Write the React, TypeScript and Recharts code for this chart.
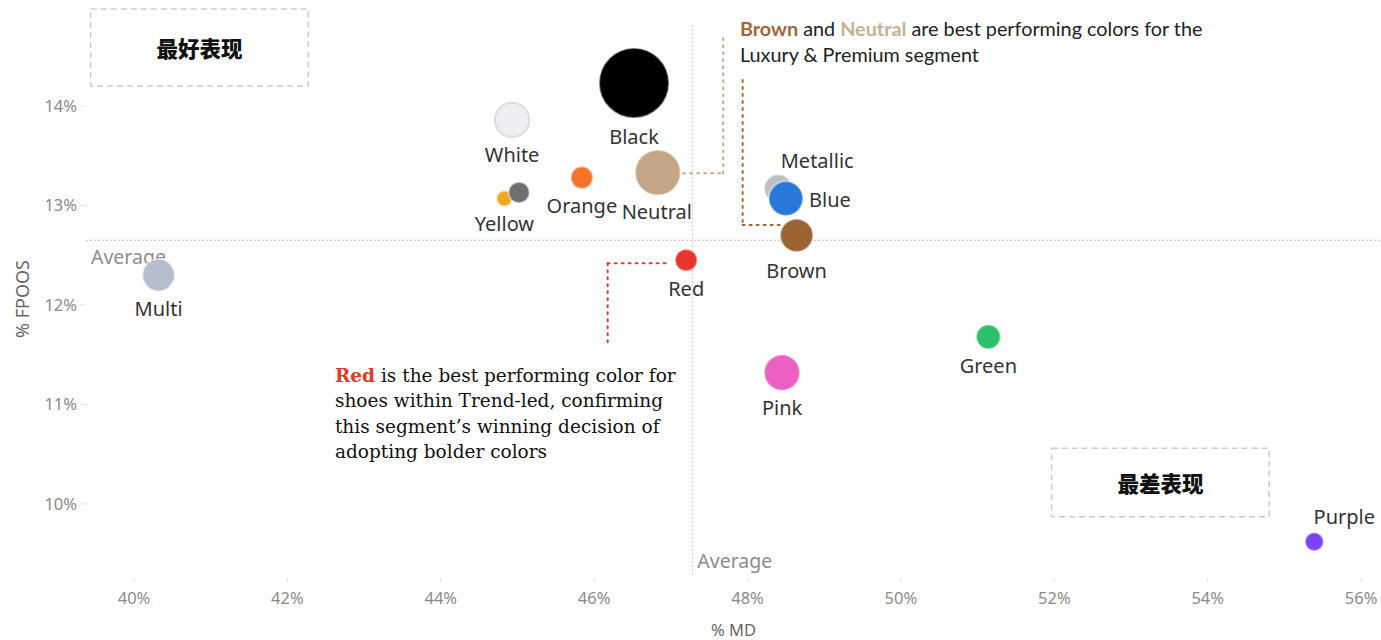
import {
  ScatterChart,
  Scatter,
  XAxis,
  YAxis,
  ZAxis,
  ReferenceLine,
  ReferenceArea,
  ReferenceDot,
} from "recharts";

// colour families, % markdown (x), % FPOOS (y), sales volume (bubble area)
const colorNames = ["Multi", "Yellow", "Grey", "White", "Orange", "Black", "Neutral", "Red", "Metallic", "Blue", "Brown", "Pink", "Green", "Purple"];
const mdPct = [40.32, 44.83, 45.02, 44.93, 45.84, 46.52, 46.83, 47.2, 48.4, 48.5, 48.64, 48.45, 51.14, 55.39];
const fpoosPct = [12.3, 13.07, 13.13, 13.86, 13.28, 14.23, 13.33, 12.45, 13.17, 13.07, 12.7, 11.32, 11.68, 9.62];
const volume = [21, 5, 9, 24, 10, 100, 42, 10, 16, 24, 22, 26, 12, 7];

const xTicks = [40, 42, 44, 46, 48, 50, 52, 54, 56];
const yTicks = [10, 11, 12, 13, 14];
const avgMd = 47.28;
const avgFpoos = 12.65;

const data = colorNames.map((name, i) => ({
  name,
  md: mdPct[i],
  fpoos: fpoosPct[i],
  volume: volume[i],
}));

const FILL: Record<string, string> = {
  Multi: "#b5bccc",
  Yellow: "#f1a91a",
  Grey: "#6f6f6f",
  White: "#eeeef2",
  Orange: "#f47329",
  Black: "#000000",
  Neutral: "#c4a588",
  Red: "#e8362e",
  Metallic: "#bcc0c2",
  Blue: "#2879d8",
  Brown: "#9a6332",
  Pink: "#ec60c3",
  Green: "#2ec068",
  Purple: "#7c44f4",
};

// label placement relative to the bubble
const LABEL_PLACE: Record<string, { dx: number; dy: number; anchor: string; below?: boolean; right?: boolean }> = {
  Metallic: { dx: 39, dy: -28, anchor: "middle" },
  Blue: { dx: 6, dy: 1, anchor: "start", right: true },
  Purple: { dx: 30, dy: -25, anchor: "middle" },
  Black: { dx: 0, dy: 18, anchor: "middle", below: true },
  Brown: { dx: 0, dy: 18.5, anchor: "middle", below: true },
  Neutral: { dx: -1, dy: 16.5, anchor: "middle", below: true },
};

const labelFont = "'Noto Sans', sans-serif";

const Bubble = (props: any) => {
  const { cx, cy, width, payload } = props;
  const r = width / 2;
  const name = payload.name as string;
  const place = LABEL_PLACE[name] ?? { dx: 0, dy: 17, anchor: "middle", below: true };
  const lx = place.right ? cx + r + place.dx : cx + place.dx;
  const ly = place.below ? cy + r + place.dy : cy + place.dy;
  const stroke = name === "White" ? "#dcdce2" : "#ffffff";
  return (
    <g>
      <circle cx={cx} cy={cy} r={r} fill={FILL[name]} stroke={stroke} strokeOpacity={name === "White" ? 1 : 0.45} strokeWidth={2} />
      {name !== "Grey" && (
        <text x={lx} y={ly} textAnchor={place.anchor as any} dominantBaseline="central" fontFamily={labelFont} fontSize={20} fill="#333">
          {name}
        </text>
      )}
    </g>
  );
};

const boxLabel = (text: string) => (p: any) => {
  const vb = p.viewBox;
  return (
    <text
      x={vb.x + vb.width / 2}
      y={vb.y + vb.height / 2}
      textAnchor="middle"
      dominantBaseline="central"
      fontFamily="'Noto Sans CJK SC', sans-serif"
      fontWeight={900}
      fontSize={21.5}
      fill="#111"
    >
      {text}
    </text>
  );
};

const luxuryNote = (p: any) => {
  const { x, y } = p.viewBox;
  const f = "Lato, sans-serif";
  return (
    <text x={x} y={y} fontFamily={f} fontSize={19.8} fill="#222" dominantBaseline="central">
      <tspan fill="#a0673a" fontWeight={700}>Brown</tspan>
      <tspan> and </tspan>
      <tspan fill="#c9b08f" fontWeight={700}>Neutral</tspan>
      <tspan> are best performing colors for the</tspan>
      <tspan x={x} dy={26}>Luxury &amp; Premium segment</tspan>
    </text>
  );
};

const trendNote = (p: any) => {
  const { x, y } = p.viewBox;
  return (
    <text x={x} y={y} fontFamily="'DejaVu Serif', serif" fontSize={18.5} fill="#111" dominantBaseline="central">
      <tspan fill="#e03a28" fontWeight={700}>Red</tspan>
      <tspan> is the best performing color for</tspan>
      <tspan x={x} dy={25.3}>shoes within Trend-led, confirming</tspan>
      <tspan x={x} dy={25.3}>this segment’s winning decision of</tspan>
      <tspan x={x} dy={25.3}>adopting bolder colors</tspan>
    </text>
  );
};

const avgLabelH = (p: any) => (
  <text x={p.viewBox.x + 5} y={p.viewBox.y + 16} dominantBaseline="central" fontFamily={labelFont} fontSize={19.5} fill="#8c8c8c">
    Average
  </text>
);

const avgLabelV = (p: any) => (
  <text x={p.viewBox.x + 5} y={p.viewBox.y + p.viewBox.height - 15} dominantBaseline="central" fontFamily={labelFont} fontSize={19.5} fill="#8c8c8c">
    Average
  </text>
);

const yTitle = (p: any) => {
  const cx = 22;
  const cy = p.viewBox.y + p.viewBox.height / 2 + 10;
  return (
    <text x={cx} y={cy} transform={`rotate(-90 ${cx} ${cy})`} textAnchor="middle" dominantBaseline="central" fontFamily={labelFont} fontSize={18} fill="#666">
      % FPOOS
    </text>
  );
};

const xTitle = (p: any) => (
  <text x={p.viewBox.x + p.viewBox.width / 2} y={629} textAnchor="middle" dominantBaseline="central" fontFamily={labelFont} fontSize={16.5} fill="#666">
    % MD
  </text>
);

const dotted = { strokeWidth: 2, strokeDasharray: "2 5", strokeLinecap: "round" as const };

export default function App() {
  return (
    <div style={{ position: "absolute", left: 0, top: 0, background: "#fff" }}>
      <ScatterChart width={1381} height={640} margin={{ top: 0, right: 0, bottom: 0, left: 0 }}>
        <XAxis
          type="number"
          dataKey="md"
          domain={[39.374, 56.26]}
          ticks={xTicks}
          allowDataOverflow
          axisLine={false}
          tickLine={{ stroke: "#e2e2e2" }}
          tickSize={4}
          tickMargin={10}
          height={62}
          tickFormatter={(v: number) => `${v}%`}
          tick={{ fontFamily: labelFont, fontSize: 16.5, fill: "#8a8a8a" }}
          label={xTitle}
        />
        <YAxis
          type="number"
          dataKey="fpoos"
          domain={[9.256, 15.065]}
          ticks={yTicks}
          allowDataOverflow
          axisLine={false}
          tickLine={{ stroke: "#e2e2e2" }}
          tickSize={6}
          tickMargin={3}
          width={86}
          tickFormatter={(v: number) => `${v}%`}
          tick={{ fontFamily: labelFont, fontSize: 16.5, fill: "#8a8a8a" }}
          label={yTitle}
        />
        <ZAxis type="number" dataKey="volume" domain={[0, 100]} range={[0, 3848]} />

        <ReferenceArea x1={39.435} x2={42.273} y1={14.201} y2={14.975} fill="none" stroke="#cccccc" strokeWidth={1.5} strokeDasharray="6 4" label={boxLabel("最好表现")} ifOverflow="visible" />
        <ReferenceArea x1={51.965} x2={54.802} y1={9.872} y2={10.56} fill="none" stroke="#cccccc" strokeWidth={1.5} strokeDasharray="6 4" label={boxLabel("最差表现")} ifOverflow="visible" />

        <ReferenceLine segment={[{ x: 47.16, y: 13.324 }, { x: 47.683, y: 13.324 }]} stroke="#c8ad8c" {...dotted} />
        <ReferenceLine segment={[{ x: 47.683, y: 13.324 }, { x: 47.683, y: 14.714 }]} stroke="#c8ad8c" {...dotted} />
        <ReferenceLine segment={[{ x: 47.936, y: 14.261 }, { x: 47.936, y: 12.804 }]} stroke="#a4652f" {...dotted} />
        <ReferenceLine segment={[{ x: 47.936, y: 12.804 }, { x: 48.45, y: 12.804 }]} stroke="#a4652f" {...dotted} />
        <ReferenceLine segment={[{ x: 46.176, y: 12.419 }, { x: 46.96, y: 12.419 }]} stroke="#e83a2e" {...dotted} />
        <ReferenceLine segment={[{ x: 46.176, y: 12.419 }, { x: 46.176, y: 11.598 }]} stroke="#e83a2e" {...dotted} />

        <Scatter data={data} shape={Bubble} isAnimationActive={false} />

        <ReferenceLine y={avgFpoos} stroke="#c4c4c4" strokeDasharray="2 2" label={avgLabelH} />
        <ReferenceLine segment={[{ x: avgMd, y: 14.81 }, { x: avgMd, y: 9.286 }]} stroke="#c4c4c4" strokeDasharray="2 2" label={avgLabelV} />

        <ReferenceDot x={47.901} y={14.784} r={0} fill="none" stroke="none" label={luxuryNote} ifOverflow="visible" />
        <ReferenceDot x={42.62} y={11.296} r={0} fill="none" stroke="none" label={trendNote} ifOverflow="visible" />
      </ScatterChart>
    </div>
  );
}
